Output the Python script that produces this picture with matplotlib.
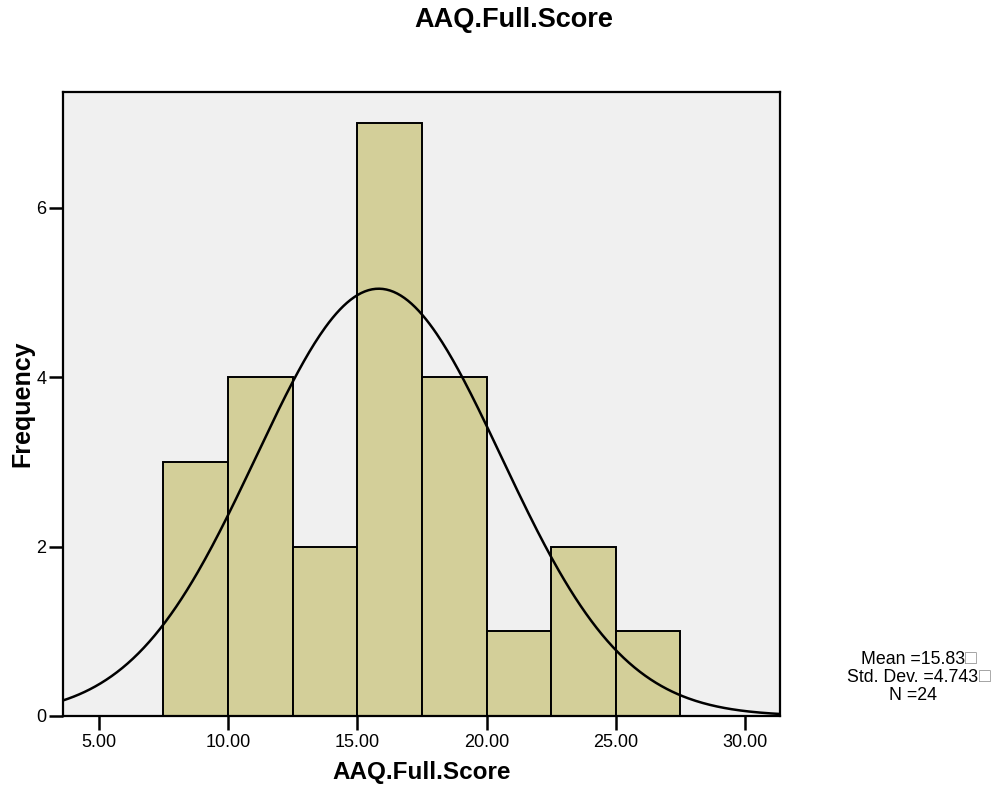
import numpy as np
import matplotlib
matplotlib.use("Agg")
import matplotlib.pyplot as plt

plt.rcParams["font.family"] = ["Liberation Sans", "DejaVu Sans"]

# histogram of AAQ.Full.Score
bin_edges = [7.5, 10.0, 12.5, 15.0, 17.5, 20.0, 22.5, 25.0, 27.5]
counts = [3, 4, 2, 7, 4, 1, 2, 1]
mean = 15.83
std_dev = 4.743
n_cases = 24

x_ticks = [5, 10, 15, 20, 25, 30]
y_ticks = [0, 2, 4, 6]

fig = plt.figure(figsize=(9.97, 7.89), dpi=100)
ax = fig.add_axes([63/997, 1 - 716/789, (780 - 63)/997, (716 - 92)/789])
ax.set_facecolor("#F0F0F0")

widths = np.diff(bin_edges)
ax.bar(bin_edges[:-1], counts, width=widths, align="edge",
       color="#D3CF99", edgecolor="black", linewidth=1.4, zorder=2)

xmin, xmax = 3.62, 31.35
xs = np.linspace(xmin, xmax, 400)
scale = n_cases * widths[0]
pdf = np.exp(-0.5 * ((xs - mean) / std_dev) ** 2) / (std_dev * np.sqrt(2 * np.pi))
ax.plot(xs, scale * pdf, color="black", lw=1.8, zorder=3)

ax.set_xlim(xmin, xmax)
ax.set_ylim(0, 7.37)
ax.set_xticks(x_ticks)
ax.set_xticklabels([f"{v:.2f}" for v in x_ticks])
ax.set_yticks(y_ticks)
ax.tick_params(axis="both", direction="out", length=10, width=1.8,
               labelsize=13, pad=3)
ax.tick_params(axis="y", pad=2)
for s in ax.spines.values():
    s.set_linewidth(1.6)

ax.set_xlabel("AAQ.Full.Score", fontsize=17.5, fontweight="bold", labelpad=7)
ax.set_ylabel("Frequency", fontsize=18, fontweight="bold", labelpad=1)
fig.text(514/997, 1 - 20/789, "AAQ.Full.Score", fontsize=19.5,
         fontweight="bold", ha="center", va="center")

# summary statistics, right of the plot
lines = [f"Mean ={mean:.2f}", f"Std. Dev. ={std_dev:.3f}", f"N ={n_cases}"]
ys = [660, 678, 696]
fig.canvas.draw()
r = fig.canvas.get_renderer()
for txt, yp in zip(lines, ys):
    t = fig.text(913/997, 1 - yp/789, txt, fontsize=12.8, ha="center",
                 va="center")
    if txt.startswith("N"):
        continue
    bb = t.get_window_extent(renderer=r)
    fig.text(bb.x1/997, 1 - (yp - 1)/789, "\u25a1", fontsize=14,
             color="#8C8C8C", ha="left", va="center")

fig.savefig("out.png", dpi=100)
